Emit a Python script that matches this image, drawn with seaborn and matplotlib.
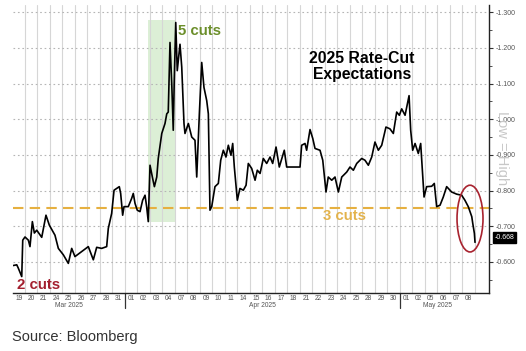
import matplotlib
matplotlib.use('Agg')
import matplotlib.pyplot as plt
import matplotlib.transforms as mtransforms
from matplotlib.patches import Ellipse
from matplotlib.ticker import MultipleLocator, FuncFormatter, FixedLocator
import seaborn as sns
import pandas as pd

# ---- data (trading-day index, fractional within day; value of priced cuts) ----
t = [0.06, 0.34, 0.46, 0.74, 0.82, 1.00, 1.27, 1.40, 1.59, 1.75,
     1.94, 2.34, 2.68, 2.95, 3.40, 3.67, 4.07, 4.47, 4.74, 5.00,
     5.54, 6.07, 6.47, 6.74, 7.14, 7.54, 7.67, 7.94, 8.13, 8.34,
     8.55, 8.66, 8.82, 8.93, 9.27, 9.54, 9.67, 9.81, 9.99, 10.21,
     10.42, 10.61, 10.74, 10.87, 11.01, 11.22, 11.36, 11.55, 11.67, 11.95,
     12.21, 12.35, 12.47, 12.61, 12.75, 12.87, 12.95, 13.07, 13.19, 13.41,
     13.55, 13.73, 13.81, 14.08, 14.35, 14.61, 14.75, 14.96, 15.15, 15.33,
     15.55, 15.68, 15.81, 15.95, 16.21, 16.48, 16.67, 16.88, 17.09, 17.28,
     17.49, 17.63, 17.76, 18.00, 18.21, 18.48, 18.70, 18.88, 19.15, 19.42,
     19.60, 19.82, 20.08, 20.35, 20.62, 20.83, 21.10, 21.36, 21.76, 21.95,
     23.02, 23.15, 23.42, 23.55, 23.82, 24.04, 24.22, 24.62, 24.84, 25.10,
     25.28, 25.56, 25.82, 26.09, 26.36, 26.76, 27.02, 27.29, 27.56, 27.96,
     28.22, 28.49, 28.76, 29.02, 29.29, 29.56, 29.90, 30.22, 30.49, 30.76,
     30.97, 31.16, 31.43, 31.75, 31.88, 32.04, 32.23, 32.49, 32.68, 32.95,
     33.16, 33.56, 33.77, 33.96, 34.23, 34.49, 34.76, 35.16, 35.56, 35.96,
     36.22, 36.49, 36.77, 36.85, 36.98, 37.03]
v = [-0.590, -0.592, -0.583, -0.559, -0.661, -0.670, -0.661, -0.643, -0.713, -0.681,
     -0.689, -0.669, -0.731, -0.703, -0.675, -0.638, -0.620, -0.596, -0.638, -0.615,
     -0.629, -0.643, -0.606, -0.641, -0.638, -0.643, -0.694, -0.736, -0.801, -0.806,
     -0.811, -0.792, -0.731, -0.755, -0.755, -0.778, -0.792, -0.764, -0.745, -0.741,
     -0.773, -0.787, -0.755, -0.713, -0.871, -0.834, -0.811, -0.838, -0.890, -0.960,
     -0.988, -1.015, -1.020, -1.215, -1.099, -0.969, -1.108, -1.271, -1.136, -1.210,
     -1.146, -0.988, -0.960, -0.988, -0.950, -0.941, -0.838, -1.015, -1.159, -1.089,
     -1.052, -1.015, -0.745, -0.755, -0.811, -0.820, -0.885, -0.913, -0.894, -0.927,
     -0.899, -0.932, -0.866, -0.773, -0.806, -0.801, -0.815, -0.876, -0.862, -0.829,
     -0.857, -0.848, -0.890, -0.876, -0.894, -0.876, -0.922, -0.866, -0.913, -0.866,
     -0.866, -0.927, -0.932, -0.913, -0.971, -0.946, -0.918, -0.913, -0.885, -0.796,
     -0.838, -0.829, -0.838, -0.796, -0.838, -0.852, -0.866, -0.857, -0.876, -0.890,
     -0.885, -0.871, -0.894, -0.936, -0.913, -0.927, -0.978, -0.973, -0.960, -1.020,
     -1.011, -1.029, -1.011, -1.066, -0.969, -0.913, -0.932, -0.904, -0.932, -0.782,
     -0.811, -0.812, -0.820, -0.755, -0.759, -0.782, -0.811, -0.796, -0.790, -0.787,
     -0.773, -0.755, -0.727, -0.708, -0.680, -0.655]

day_labels = ["19", "20", "21", "24", "25", "26", "27", "28", "31",
              "01", "02", "03", "04", "07", "08", "09", "10", "11", "14", "15", "16",
              "17", "18", "21", "22", "23", "24", "25", "28", "29", "30",
              "01", "02", "05", "06", "07", "08"]
months = ["Mar 2025", "Apr 2025", "May 2025"]
month_start = [0, 9, 31, 37]
yticks = [-1.3, -1.2, -1.1, -1.0, -0.9, -0.8, -0.7, -0.6]
three_cuts = -0.75
last_value = -0.668
shade_x = [10.85, 13.0]
shade_y = [-0.711, -1.277]

df = pd.DataFrame({"t": t, "v": v})

sns.set_style("white")
plt.rcParams['font.family'] = ['Liberation Sans', 'DejaVu Sans']

fig = plt.figure(figsize=(5.26, 3.51), dpi=100)
ax = fig.add_axes([12.5 / 526, 1 - 293 / 351, (489 - 12.5) / 526, (293 - 5) / 351])

# shading (tariff-shock window)
ax.fill_between(shade_x, shade_y[0], shade_y[1], color="#dcefd6", zorder=0.5, lw=0)

# gridlines
for d in range(1, len(day_labels) + 1):
    ax.axvline(d, color="#d6d6d6", lw=0.8, zorder=0.6)
for yv in yticks:
    ax.axhline(yv, color="#b5b5b5", lw=0.8, ls=(0, (1.5, 2.5)), zorder=0.6)

# 3 cuts line
ax.axhline(three_cuts, color="#e6b040", lw=1.5, ls=(0, (5, 3)), zorder=2)

sns.lineplot(data=df, x="t", y="v", ax=ax, color="black", lw=1.2,
             estimator=None, sort=False, zorder=3)

ax.set_xlim(0, 38.15)
ax.set_ylim(-0.513, -1.32)
ax.set_xlabel("")
ax.set_ylabel("")

# spines
for s in ["left", "top"]:
    ax.spines[s].set_visible(False)
for s in ["right", "bottom"]:
    ax.spines[s].set_visible(True)
    ax.spines[s].set_color("#222222")
    ax.spines[s].set_linewidth(1.0)

# y axis on right
ax.yaxis.tick_right()
ax.yaxis.set_major_locator(FixedLocator(yticks))
ax.yaxis.set_minor_locator(MultipleLocator(0.05))
ax.yaxis.set_major_formatter(FuncFormatter(lambda val, p: f"{val:.3f}"))
ax.tick_params(axis="y", which="major", length=3, width=0.8, colors="#333333",
               labelsize=5, pad=1.5, labelcolor="#555555")
ax.tick_params(axis="y", which="minor", length=2, width=0.6, colors="#333333")

# x ticks: day labels centered in each day
ax.set_xticks([i + 0.5 for i in range(len(day_labels))])
ax.set_xticklabels(day_labels)
ax.tick_params(axis="x", length=0, labelsize=4.8, labelcolor="#555555", pad=1.5)

trans = mtransforms.blended_transform_factory(ax.transData, ax.transAxes)
for i, m in enumerate(months):
    cx = (month_start[i] + month_start[i + 1]) / 2
    ax.text(cx, -0.042, m, transform=trans, ha="center", va="center",
            fontsize=4.8, color="#555555")
for b in month_start[1:3]:
    ax.plot([b, b], [0, -0.053], transform=trans, color="#333333", lw=0.9, clip_on=False)

# annotations
ax.text(13.25, -1.248, "5 cuts", color="#6b8e2a", fontsize=10.8, fontweight="bold",
        ha="left", va="center", zorder=4)
ax.text(0.36, -0.536, "2 cuts", color="#a3202f", fontsize=10.8, fontweight="bold",
        ha="left", va="center", zorder=4)
ax.text(24.86, -0.728, "3 cuts", color="#e3b34c", fontsize=10.8, fontweight="bold",
        ha="left", va="center", zorder=4)
ax.text(27.98, -1.147, "2025 Rate-Cut\nExpectations", color="black", fontsize=11.3,
        fontweight="bold", ha="center", va="center", linespacing=1.1, zorder=4)

ax.add_patch(Ellipse((36.63, -0.7215), 2.08, 0.187, fill=False,
                     edgecolor="#a8232f", lw=1.2, zorder=5))

ax.annotate(f"{last_value:.3f}", xy=(1.0, last_value), xycoords=("axes fraction", "data"),
            xytext=(4, 0), textcoords="offset points", ha="left", va="center",
            fontsize=5, color="white",
            bbox=dict(boxstyle="square,pad=0.25", fc="black", ec="black"),
            annotation_clip=False)

fig.text(502 / 526, 1 - 148 / 351, "Low = High", rotation=270, ha="center", va="center",
         fontsize=10.5, color="#c8c8c8", zorder=0)
fig.text(12 / 526, 1 - 337 / 351, "Source: Bloomberg", ha="left", va="center",
         fontsize=10.5, color="#333333")

fig.savefig("out.png", dpi=100)
